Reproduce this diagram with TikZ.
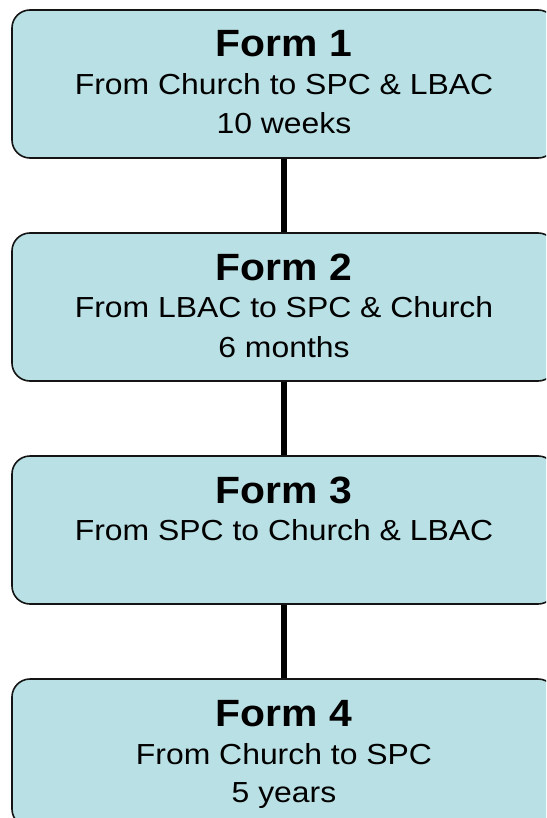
\documentclass[tikz,border=0pt]{standalone}
\usepackage{fontspec}
\setmainfont{Liberation Sans}
\newfontfamily\ttlfont[FakeStretch=1.075]{Liberation Sans}
\newfontfamily\subfont[FakeStretch=1.10]{Liberation Sans}
\definecolor{boxfill}{RGB}{185,224,228}
\definecolor{boxline}{RGB}{20,20,20}
\begin{document}
\begin{tikzpicture}[x=1pt,y=-1pt,
  formbox/.style={draw=boxline,line width=1.6pt,fill=boxfill,rounded corners=18pt,
    minimum width=544pt,minimum height=148pt,inner sep=0pt},
  ttl/.style={anchor=base,inner sep=0pt,font=\ttlfont\bfseries\fontsize{38}{42}\selectfont},
  sub/.style={anchor=base,inner sep=0pt,font=\subfont\fontsize{29}{33}\selectfont},
  link/.style={line width=6pt,black}]
\useasboundingbox (0,0) rectangle (546,818);
\clip (0,0) rectangle (546,818);
% boxes
\node[formbox] (b1) at (284,84) {};
\node[formbox] (b2) at (284,307) {};
\node[formbox] (b3) at (284,530) {};
\node[formbox] (b4) at (284,753) {};
% connectors
\draw[link] (b1.south) -- (b2.north);
\draw[link] (b2.south) -- (b3.north);
\draw[link] (b3.south) -- (b4.north);
% texts
\node[ttl] (t1) at (284,57) {Form 1};
\node[sub] (s1a) at (284,94.5) {From Church to SPC \& LBAC};
\node[sub] (s1b) at (284,134) {10 weeks};
\node[ttl] (t2) at (284,280) {Form 2};
\node[sub] (s2a) at (284,317.5) {From LBAC to SPC \& Church};
\node[sub] (s2b) at (284,357) {6 months};
\node[ttl] (t3) at (284,503) {Form 3};
\node[sub] (s3a) at (284,540.5) {From SPC to Church \& LBAC};
\node[ttl] (t4) at (284,726.5) {Form 4};
\node[sub] (s4a) at (284,764) {From Church to SPC};
\node[sub] (s4b) at (284,802) {5 years};
\end{tikzpicture}
\end{document}
